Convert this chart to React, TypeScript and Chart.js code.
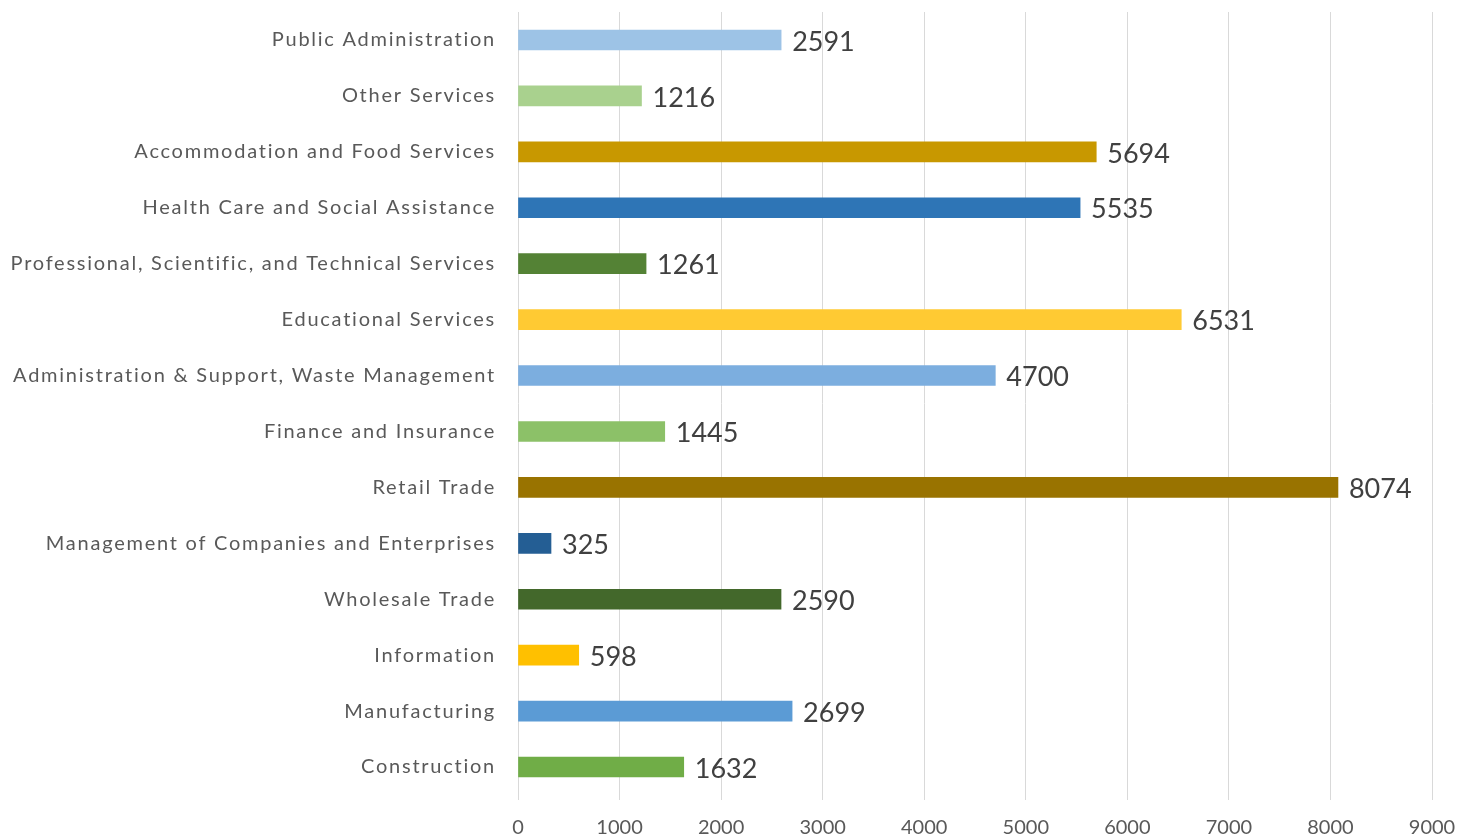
import React, { useEffect, useRef } from "react";
import { Chart, registerables } from "chart.js";

Chart.register(...registerables);

const categories = [
  "Public Administration",
  "Other Services",
  "Accommodation and Food Services",
  "Health Care and Social Assistance",
  "Professional, Scientific, and Technical Services",
  "Educational Services",
  "Administration & Support, Waste Management",
  "Finance and Insurance",
  "Retail Trade",
  "Management of Companies and Enterprises",
  "Wholesale Trade",
  "Information",
  "Manufacturing",
  "Construction",
];

const values = [2591, 1216, 5694, 5535, 1261, 6531, 4700, 1445, 8074, 325, 2590, 598, 2699, 1632];

const barColors = [
  "#9DC3E6",
  "#A9D18E",
  "#C89800",
  "#2E75B6",
  "#548235",
  "#FFCA33",
  "#7CAEDF",
  "#8CC168",
  "#997300",
  "#245E94",
  "#43682B",
  "#FFC000",
  "#5B9BD5",
  "#70AD47",
];

const xTicks = [0, 1000, 2000, 3000, 4000, 5000, 6000, 7000, 8000, 9000];

const FONT = "Lato, 'Open Sans', sans-serif";

const valueLabels = {
  id: "valueLabels",
  afterDatasetsDraw(chart: any) {
    const ctx = chart.ctx;
    const meta = chart.getDatasetMeta(0);
    ctx.save();
    ctx.font = `27px ${FONT}`;
    ctx.fillStyle = "#404040";
    ctx.textAlign = "left";
    ctx.textBaseline = "middle";
    meta.data.forEach((bar: any, i: number) => {
      ctx.fillText(String(values[i]), bar.x + 11, bar.y + 2);
    });
    ctx.restore();
  },
};

export default function App() {
  const ref = useRef<HTMLCanvasElement>(null);
  useEffect(() => {
    document.body.style.margin = "0";
    const chart = new Chart(ref.current!, {
      type: "bar",
      data: {
        labels: categories,
        datasets: [
          {
            data: values,
            backgroundColor: barColors,
            barThickness: 20,
          },
        ],
      },
      options: {
        indexAxis: "y",
        animation: false,
        responsive: false,
        layout: { padding: { top: 12, right: 26, left: 0, bottom: 0 } },
        plugins: { legend: { display: false }, tooltip: { enabled: false } },
        scales: {
          x: {
            min: 0,
            max: 9000,
            afterBuildTicks: (axis: any) => {
              axis.ticks = xTicks.map((v) => ({ value: v }));
            },
            afterFit: (axis: any) => {
              axis.height = 45;
              axis.paddingRight = 0;
              axis.paddingLeft = 0;
            },
            grid: { color: "#D9D9D9", lineWidth: 1, tickLength: 5, drawTicks: true },
            border: { display: false },
            ticks: {
              color: "#595959",
              font: { family: FONT, size: 20 },
              padding: 16,
              maxRotation: 0,
              callback: (v: any) => String(v),
            },
          },
          y: {
            afterFit: (axis: any) => {
              axis.width = 518;
              if (!axis.__spaced) {
                axis.__spaced = true;
                const orig = axis.drawLabels;
                axis.drawLabels = function (area: any) {
                  const c = this.ctx;
                  c.save();
                  c.letterSpacing = "1.75px";
                  c.translate(2, 0);
                  orig.call(this, area);
                  c.restore();
                };
              }
            },
            grid: {
              display: true,
              drawOnChartArea: false,
              drawTicks: true,
              tickLength: 24,
              tickColor: "rgba(0,0,0,0)",
            },
            border: { display: false },
            ticks: { color: "#595959", font: { family: FONT, size: 20 }, padding: 0, autoSkip: false },
          },
        },
      },
      plugins: [valueLabels],
    });
    return () => chart.destroy();
  }, []);
  return (
    <div style={{ width: 1458, height: 840 }}>
      <canvas ref={ref} width={1458} height={840} />
    </div>
  );
}
